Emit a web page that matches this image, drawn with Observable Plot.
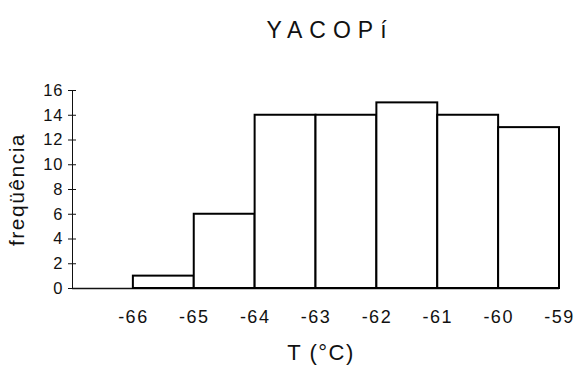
<!DOCTYPE html>
<html><head><meta charset="utf-8">
<script src="https://cdn.jsdelivr.net/npm/d3@7"></script>
<script src="https://cdn.jsdelivr.net/npm/@observablehq/plot@0.6"></script>
<style>
body{margin:0;background:#fff;}
</style></head><body>
<div id="chart"></div>
<script>
const title = "YACOPí";
const binStart = [-66, -65, -64, -63, -62, -61, -60];
const binEnd = [-65, -64, -63, -62, -61, -60, -59];
const counts = [1, 6, 14, 14, 15, 14, 13];
const xTicks = [-66, -65, -64, -63, -62, -61, -60, -59];
const yTicks = [0, 2, 4, 6, 8, 10, 12, 14, 16];
const xDomain = [-67, -59];
const yDomain = [0, 16];
const xLabel = "T (°C)";
const yLabel = "freqüência";

const bars = binStart.map((s, i) => ({x1: s, x2: binEnd[i], y: counts[i]}));

const svg = Plot.plot({
  width: 576, height: 375,
  marginTop: 90, marginBottom: 87, marginLeft: 72, marginRight: 17,
  x: {domain: xDomain},
  y: {domain: yDomain},
  style: {background: "white", color: "#111", fontFamily: "'Liberation Sans', Arial, sans-serif", overflow: "visible"},
  marks: [
    Plot.axisY({ticks: yTicks, tickSize: 4, tickPadding: 5, fontSize: 16.5, label: null, tickFormat: d => String(d)}),
    Plot.axisY({ticks: yTicks, tickSize: -4, tickFormat: () => "", label: null}),
    Plot.ruleX([xDomain[0]], {strokeWidth: 1}),
    Plot.axisX({ticks: xTicks, tickSize: 0, tickPadding: 22, fontSize: 18, label: null, tickFormat: d => String(d)}),
    Plot.ruleY([0], {strokeWidth: 1.5}),
    Plot.rectY(bars, {x1: "x1", x2: "x2", y: "y", fill: "white", stroke: "black", strokeWidth: 2}),
    Plot.text([title], {text: d => d, frameAnchor: "top", dy: -69, dx: 14, fontSize: 23}),
    Plot.text([xLabel], {text: d => d, frameAnchor: "bottom", dy: 71, dx: 5, fontSize: 22}),
    Plot.text([yLabel], {text: d => d, frameAnchor: "left", textAnchor: "middle", rotate: -90, dx: -55, fontSize: 21})
  ]
});
document.getElementById("chart").appendChild(svg);
const s = d3.select(svg);
s.selectAll('g[aria-label="x-axis tick label"]').attr("letter-spacing", 1.5);
s.selectAll('g[aria-label="y-axis tick label"]').attr("letter-spacing", 1);
const texts = svg.querySelectorAll('g[aria-label="text"]');
if (texts[0]) texts[0].setAttribute("letter-spacing", 7);
if (texts[1]) texts[1].setAttribute("letter-spacing", 1.5);
if (texts[2]) texts[2].setAttribute("letter-spacing", 1.5);
</script>
</body></html>
